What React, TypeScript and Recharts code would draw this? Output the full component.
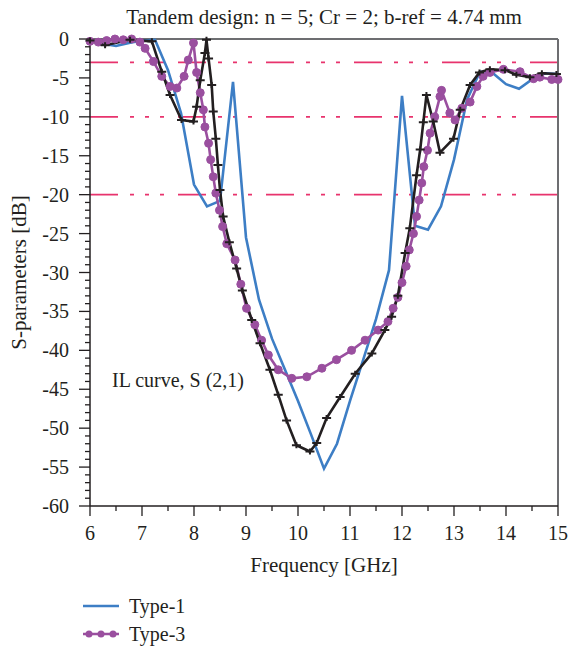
import { Line, LineChart, ReferenceLine, XAxis, YAxis } from "recharts";

const FONT = "'Liberation Serif', 'DejaVu Serif', serif";
const BLUE = "#3d7ec5";
const PURPLE = "#9a4f9f";
const BLACK = "#231f20";
const PINK = "#e8336d";
const INK = "#231f20";

const PLOT_LEFT = 90;
const PLOT_BOTTOM = 506;

// Type-1 (blue)
const type1Freq = [6, 6.25, 6.5, 6.75, 7, 7.25, 7.5, 7.75, 8, 8.25, 8.5, 8.75, 9, 9.25, 9.5, 9.75, 10, 10.25, 10.5, 10.75, 11, 11.25, 11.5, 11.75, 12, 12.25, 12.5, 12.75, 13, 13.25, 13.5, 13.75, 14, 14.25, 14.5, 14.75, 15];
const type1Vals = [-0.3, -0.6, -0.9, -0.5, -0.2, -0.1, -4, -9.5, -18.7, -21.5, -20.8, -5.5, -25.5, -33.5, -38.5, -42.5, -46.5, -50.8, -55.2, -52, -46.5, -41.3, -36, -29.7, -7.3, -24, -24.5, -21.5, -15.5, -7.8, -4.2, -4.4, -5.8, -6.4, -5.2, -4.4, -4.5];

// Type-2 (black, "+" markers)
const type2Freq = [6, 6.29, 6.77, 7.19, 7.38, 7.54, 7.76, 7.99, 8.05, 8.12, 8.21, 8.24, 8.28, 8.34, 8.37, 8.42, 8.46, 8.5, 8.56, 8.68, 8.82, 8.93, 9.11, 9.27, 9.46, 9.62, 9.78, 9.97, 10.23, 10.36, 10.55, 10.81, 11.1, 11.42, 11.67, 11.8, 11.92, 12.06, 12.15, 12.28, 12.35, 12.41, 12.47, 12.6, 12.73, 12.99, 13.12, 13.31, 13.49, 13.69, 13.98, 14.2, 14.46, 14.69, 14.97];
const type2Vals = [-0.2, -0.8, -0.1, -0.3, -4.2, -7.2, -10.4, -10.6, -8.7, -5.3, -1.8, -0.1, -2.5, -5.9, -9.3, -12.8, -16.2, -19.4, -22.8, -26.1, -29.5, -32.3, -36.1, -39.1, -42.5, -45.7, -49, -52.2, -53, -51.9, -48.7, -46, -43, -40.4, -37.4, -35.7, -33, -27.5, -24.3, -17.5, -14.2, -10.7, -7.2, -10.6, -14.6, -12.8, -9.1, -5.9, -4.3, -3.9, -4, -4.6, -4.9, -4.4, -4.5];

// Type-3 (purple, round markers)
const type3Freq = [6, 6.16, 6.32, 6.48, 6.64, 6.8, 6.96, 7.06, 7.22, 7.38, 7.54, 7.67, 7.81, 7.89, 7.99, 8.05, 8.12, 8.18, 8.21, 8.28, 8.32, 8.37, 8.42, 8.49, 8.55, 8.63, 8.79, 8.9, 9.01, 9.17, 9.3, 9.43, 9.62, 9.88, 10.17, 10.46, 10.74, 11.03, 11.29, 11.54, 11.73, 11.83, 11.92, 12, 12.08, 12.14, 12.22, 12.28, 12.33, 12.38, 12.42, 12.49, 12.54, 12.63, 12.73, 12.76, 12.92, 13.02, 13.15, 13.31, 13.44, 13.56, 13.69, 13.95, 14.27, 14.53, 14.65, 14.88, 15];
const type3Vals = [-0.3, -0.4, -0.2, 0, -0.1, 0, -0.4, -1.2, -2.9, -4.8, -6.1, -6.3, -4.8, -2.7, -0.5, -4.3, -6.9, -9.1, -11.3, -13.4, -15.5, -17.7, -19.8, -22, -24.1, -26.3, -28.4, -31.5, -34.6, -36.7, -38.7, -40.6, -42.5, -43.6, -43.4, -42.3, -41.2, -40, -38.7, -37.4, -36.3, -34.6, -33.2, -31.3, -29.2, -27.1, -25, -22.8, -20.7, -18.5, -16.4, -14.3, -12.1, -10, -7.4, -6.6, -9.5, -10.4, -8.9, -8.1, -6.1, -4.8, -4.3, -3.9, -4.2, -5.1, -4.9, -5.2, -5.2];

const limitLevels = [-3, -10, -20];
const xTicks = Array.from({ length: 19 }, (_, i) => 6 + i * 0.5);
const yTicks = Array.from({ length: 61 }, (_, i) => -i);

const legendItems = [
  { name: "Type-1", color: BLUE, dots: false },
  { name: "Type-3", color: PURPLE, dots: true },
];

const toPoints = (fs: number[], vs: number[]) => fs.map((f, i) => ({ f, v: vs[i] }));
const type1 = toPoints(type1Freq, type1Vals);
const type2 = toPoints(type2Freq, type2Vals);
const type3 = toPoints(type3Freq, type3Vals);

function YTick(props: any) {
  const { y, payload } = props;
  const v = payload.value;
  const major = v % 5 === 0;
  return (
    <g>
      <line x1={PLOT_LEFT - (major ? 11 : 5)} x2={PLOT_LEFT} y1={y} y2={y} stroke={INK} strokeWidth={1.3} />
      {major && (
        <text x={PLOT_LEFT - 21} y={y} dy="0.35em" textAnchor="end" fontFamily={FONT} fontSize={20} fill={INK}>
          {v}
        </text>
      )}
    </g>
  );
}

function XTick(props: any) {
  const { x, payload } = props;
  const v = payload.value;
  const major = Number.isInteger(v);
  return (
    <g>
      <line x1={x} x2={x} y1={PLOT_BOTTOM} y2={PLOT_BOTTOM + (major ? 10 : 5)} stroke={INK} strokeWidth={1.3} />
      {major && (
        <text x={x} y={PLOT_BOTTOM + 27} dy="0.35em" textAnchor="middle" fontFamily={FONT} fontSize={20} fill={INK}>
          {v}
        </text>
      )}
    </g>
  );
}

function PlusDot(props: any) {
  const { cx, cy, index } = props;
  return (
    <path
      key={`p-${index}`}
      d={`M${cx - 4.5},${cy}h9M${cx},${cy - 3}v6`}
      stroke={BLACK}
      strokeWidth={2}
      fill="none"
    />
  );
}

export default function App() {
  return (
    <div style={{ position: "absolute", left: 0, top: 0, width: 568, height: 648, background: "#fff", fontFamily: FONT, color: INK }}>
      <div style={{ position: "absolute", left: 90, width: 468, top: 5, textAlign: "center", fontSize: 21, lineHeight: "24px" }}>
        Tandem design: n = 5; Cr = 2; b-ref = 4.74 mm
      </div>
      <LineChart width={568} height={648} margin={{ top: 39, right: 10, bottom: 112, left: 30 }}>
        <XAxis
          type="number"
          dataKey="f"
          domain={[6, 15]}
          ticks={xTicks}
          interval={0}
          tick={<XTick />}
          tickLine={false}
          axisLine={{ stroke: INK, strokeWidth: 1.5 }}
          height={30}
          allowDuplicatedCategory={false}
          label={{
            content: (p: any) => (
              <text x={p.viewBox.x + p.viewBox.width / 2} y={565} dy="0.35em" textAnchor="middle" fontFamily={FONT} fontSize={21} fill={INK}>
                Frequency [GHz]
              </text>
            ),
          }}
        />
        <YAxis
          type="number"
          domain={[-60, 0]}
          ticks={yTicks}
          interval={0}
          tick={<YTick />}
          tickLine={false}
          axisLine={{ stroke: INK, strokeWidth: 1.5 }}
          width={60}
          label={{
            content: (p: any) => {
              const cy = p.viewBox.y + p.viewBox.height / 2;
              return (
                <text x={19} y={cy} dy="0.35em" transform={`rotate(-90 19 ${cy})`} textAnchor="middle" fontFamily={FONT} fontSize={21} fill={INK}>
                  S-parameters [dB]
                </text>
              );
            },
          }}
        />
        {limitLevels.map((lv) => (
          <ReferenceLine key={lv} y={lv} stroke={PINK} strokeWidth={1.6} strokeDasharray="28 12 4 11 4 11 4 14" />
        ))}
        <ReferenceLine y={0} stroke="#6d6e71" strokeWidth={2} />
        <ReferenceLine x={15} stroke="#6d6e71" strokeWidth={2} />
        <Line data={type1} dataKey="v" name="Type-1" stroke={BLUE} strokeWidth={2.6} dot={false} isAnimationActive={false} />
        <Line
          data={type3}
          dataKey="v"
          name="Type-3"
          stroke={PURPLE}
          strokeWidth={2.6}
          dot={{ r: 4, fill: PURPLE, stroke: PURPLE, strokeWidth: 1 }}
          isAnimationActive={false}
        />
        <Line data={type2} dataKey="v" name="Type-2" stroke={BLACK} strokeWidth={2.6} dot={<PlusDot />} isAnimationActive={false} />
      </LineChart>
      <div style={{ position: "absolute", left: 112, top: 368, fontSize: 20, lineHeight: "24px", whiteSpace: "nowrap" }}>
        IL curve, S (2,1)
      </div>
      <div style={{ position: "absolute", left: 82, top: 592 }}>
        {legendItems.map((it) => (
          <div key={it.name} style={{ display: "flex", alignItems: "center", height: 28, fontSize: 20 }}>
            <svg width={38} height={12} style={{ marginRight: 9 }}>
              <line x1={1} x2={37} y1={6} y2={6} stroke={it.color} strokeWidth={2.6} />
              {it.dots && [7, 19, 31].map((cx) => <circle key={cx} cx={cx} cy={6} r={3.5} fill={it.color} />)}
            </svg>
            <span>{it.name}</span>
          </div>
        ))}
      </div>
    </div>
  );
}
